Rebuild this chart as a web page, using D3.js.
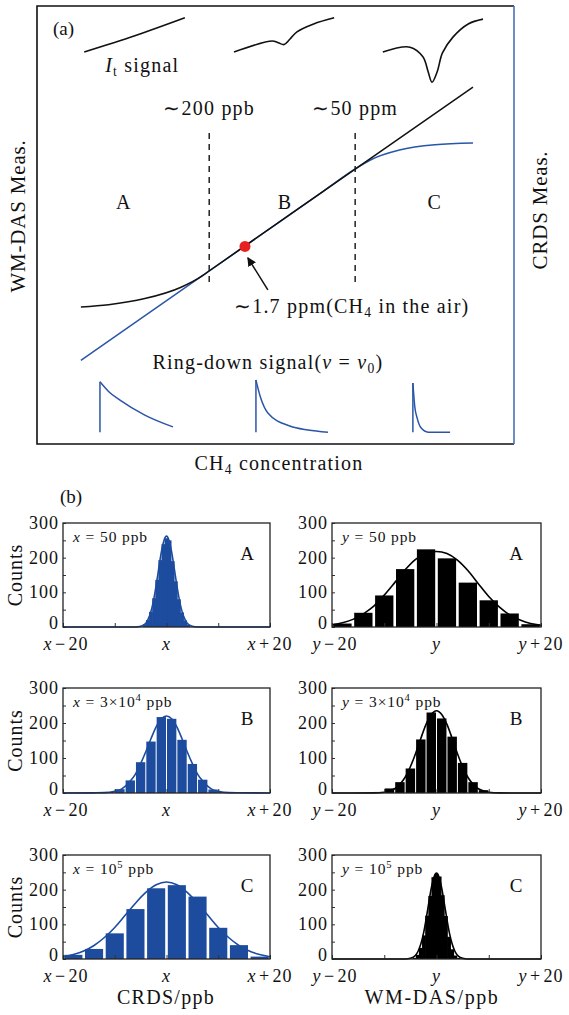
<!DOCTYPE html>
<html>
<head>
<meta charset="utf-8">
<script src="https://cdn.jsdelivr.net/npm/d3@7"></script>
<style>
  body { margin: 0; background: #fff; }
  svg text { font-family: "Liberation Serif", "Times New Roman", serif; fill: #111; }
</style>
</head>
<body>
<div id="chart"></div>
<script>
// ---------- panel (a): schematic, in arbitrary units 0..100 ----------
const wmdasCurve = [[9.2, 31.3], [15, 31.8], [22.6, 33.2], [30.2, 35.8], [34.8, 38.5], [36.1, 39.5], [60, 57.7], [91.4, 81.5]];
const crdsCurve = [[9.2, 19.1], [36.1, 39.5], [60, 57.7], [66.7, 62.8], [70, 64.9], [76, 67.1], [83.4, 68.3], [91.4, 68.7]];
const signalLow = [[9.9, 89.5], [20.5, 93.2], [31.0, 97.3]];
const signalMid = [[41.3, 89.5], [49.3, 92.0], [50.6, 91.6], [51.8, 91.2], [53.0, 92.4], [54.5, 94.1], [58, 95.9], [62.3, 97.3]];
const signalHigh = [[72.5, 89.5], [78.2, 90.6], [80.9, 88.4], [82.0, 85.0], [82.8, 82.6], [83.9, 85.0], [85.0, 89.3], [87.2, 92.9], [90.4, 95.9], [93.5, 97.0]];
const ringLow = [[13.2, 2.7], [13.2, 14.2], [15.0, 12.0], [17.4, 10.0], [22.6, 6.6], [28.5, 3.9]];
const ringMid = [[45.9, 2.7], [45.9, 14.6], [46.9, 10.5], [48.4, 7.1], [53.0, 4.1], [56.8, 3.2], [61.0, 2.7]];
const ringHigh = [[78.8, 2.7], [78.8, 13.9], [79.2, 8.5], [79.7, 5.9], [80.5, 3.7], [82.0, 2.7], [86.6, 2.7]];
const regionNames = ["A", "B", "C"];
const regionCenters = [18.2, 52.0, 83.4];
const regionBounds = [36.1, 66.7];
const boundLabels = ["200 ppb", "50 ppm"];
const airPoint = [43.6, 45.1];

// ---------- panel (b): histograms, offset from true value (ppb) ----------
const offsetTicks = [-20, -10, 0, 10, 20];
const offsetLabels = [-20, 0, 20];
const countTicks = [0, 100, 200, 300];
const countMinorTicks = [0, 50, 100, 150, 200, 250, 300];

const binsNarrow = [-4.2, -3.6, -3.0, -2.4, -1.8, -1.2, -0.6, 0, 0.6, 1.2, 1.8, 2.4, 3.0, 3.6, 4.2];
const binsMid = [-11, -9, -7, -5, -3, -1, 1, 3, 5, 7, 9, 11];
const binsWide = [-18, -14, -10, -6, -2, 2, 6, 10, 14, 18];

const crdsCountsA = [8, 20, 44, 83, 136, 193, 239, 256, 250, 190, 132, 80, 42, 19, 7];
const wmdasCountsA = [10, 41, 91, 167, 224, 198, 128, 77, 39, 8];
const crdsCountsB = [3, 11, 36, 88, 147, 217, 212, 152, 83, 38, 10, 3];
const wmdasCountsB = [3, 13, 31, 70, 153, 230, 213, 161, 86, 31, 8, 2];
const crdsCountsC = [12, 29, 74, 144, 204, 213, 180, 90, 40, 7];
const wmdasCountsC = [3, 12, 32, 68, 125, 182, 236, 246, 238, 184, 124, 64, 28, 10, 3];

const crdsFitA = [[-20, 0], [-6, 0], [-5, 2], [-4, 11], [-3.5, 24], [-3, 45], [-2.5, 77], [-2, 120], [-1.5, 169], [-1, 216], [-0.5, 249], [0, 262],
  [0.5, 249], [1, 216], [1.5, 169], [2, 120], [2.5, 77], [3, 45], [3.5, 24], [4, 11], [5, 2], [6, 0], [20, 0]];
const wmdasFitA = [[-20, 6], [-18, 12], [-16, 22], [-14, 38], [-12, 60], [-10, 92], [-8, 128], [-6, 165], [-4, 195], [-2, 213], [0, 218],
  [2, 212], [4, 193], [6, 163], [8, 125], [10, 88], [12, 58], [14, 35], [16, 20], [18, 10], [20, 5]];
const crdsFitB = [[-20, 0], [-14, 0.5], [-12, 1], [-10, 5], [-9, 9], [-8, 19], [-7, 34], [-6, 54], [-5, 84], [-4, 118], [-3, 155], [-2, 189], [-1, 212], [0, 220],
  [1, 212], [2, 189], [3, 155], [4, 118], [5, 84], [6, 54], [7, 34], [8, 19], [9, 9], [10, 5], [12, 1], [14, 0.5], [20, 0]];
const wmdasFitB = [[-20, 0], [-12, 0.3], [-10, 2], [-9, 6], [-8, 12], [-7, 25], [-6, 45], [-5, 75], [-4, 113], [-3, 156], [-2, 196], [-1, 224], [0, 235],
  [1, 224], [2, 196], [3, 156], [4, 113], [5, 75], [6, 45], [7, 25], [8, 12], [9, 6], [10, 2], [12, 0.3], [20, 0]];
const crdsFitC = [[-20, 6.5], [-18, 13], [-16, 23], [-14, 39], [-12, 62], [-10, 91], [-8, 126], [-6, 161], [-4, 192], [-2, 214], [0, 222],
  [2, 214], [4, 192], [6, 161], [8, 126], [10, 91], [12, 62], [14, 39], [16, 23], [18, 13], [20, 6.5]];
const wmdasFitC = [[-20, 0], [-6, 0], [-5, 2], [-4, 11], [-3.5, 23], [-3, 43], [-2.5, 73], [-2, 114], [-1.5, 160], [-1, 204], [-0.5, 236], [0, 248],
  [0.5, 236], [1, 204], [1.5, 160], [2, 114], [2.5, 73], [3, 43], [3.5, 23], [4, 11], [5, 2], [6, 0], [20, 0]];

const BLUE = "#1d4c9f";
const BLUE_TEXT = "#3d66b3";

const svg = d3.select("#chart").append("svg")
  .attr("width", 569)
  .attr("height", 1015);

// text with italic / sub / superscript pieces
function rich(parent, x, y, parts, attrs) {
  const t = parent.append("text").attr("x", x).attr("y", y);
  Object.entries(attrs || {}).forEach(([k, v]) => t.attr(k, v));
  let shift = 0;
  parts.forEach(p => {
    const s = t.append("tspan").text(p.t);
    const want = p.sh || 0;
    if (want !== shift) { s.attr("dy", want - shift); shift = want; }
    if (p.i) s.attr("font-style", "italic");
    if (p.sh) s.attr("font-size", "68%");
  });
  return t;
}

// ================= panel (a) =================
const ga = svg.append("g");
const ax = d3.scaleLinear().domain([0, 100]).range([37, 514]);
const ay = d3.scaleLinear().domain([0, 100]).range([444, 6]);
const aLine = d3.line().x(d => ax(d[0])).y(d => ay(d[1]));

// frame: black on three sides, blue on the right (CRDS axis)
ga.append("path")
  .attr("d", `M${ax(100)},${ay(100)}H${ax(0)}V${ay(0)}H${ax(100)}`)
  .attr("fill", "none").attr("stroke", "#111").attr("stroke-width", 1.6);
ga.append("line")
  .attr("x1", ax(100)).attr("x2", ax(100)).attr("y1", ay(100)).attr("y2", ay(0))
  .attr("stroke", "#4a70ba").attr("stroke-width", 1.6);

const aFont = { "font-size": 20, "letter-spacing": 1.2 };
rich(ga, 53, 35, [{ t: "(a)" }], { "font-size": 19 });

// small transmitted-intensity signals
[signalLow, signalMid, signalHigh].forEach(s => {
  ga.append("path").datum(s)
    .attr("d", aLine.curve(d3.curveCatmullRom.alpha(0.5)))
    .attr("fill", "none").attr("stroke", "#111").attr("stroke-width", 1.6);
});
rich(ga, ax(14.3), ay(84.9), [{ t: "I", i: true }, { t: "t", sh: 4 }, { t: " signal" }], aFont);

// region boundaries
regionBounds.forEach((b, i) => {
  ga.append("line")
    .attr("x1", ax(b)).attr("x2", ax(b))
    .attr("y1", ay(71.0)).attr("y2", ay(36.1))
    .attr("stroke", "#111").attr("stroke-width", 1.4).attr("stroke-dasharray", "6,5");
  rich(ga, ax(b), ay(75.1), [{ t: "\u223C" }, { t: boundLabels[i] }], Object.assign({ "text-anchor": "middle" }, aFont));
});
regionNames.forEach((n, i) => {
  rich(ga, ax(regionCenters[i]), ay(53.7), [{ t: n }], Object.assign({ "text-anchor": "middle" }, aFont));
});

// response curves
ga.append("path").datum(crdsCurve)
  .attr("d", aLine.curve(d3.curveMonotoneX))
  .attr("fill", "none").attr("stroke", "#2a56a8").attr("stroke-width", 1.5);
ga.append("path").datum(wmdasCurve)
  .attr("d", aLine.curve(d3.curveMonotoneX))
  .attr("fill", "none").attr("stroke", "#111").attr("stroke-width", 1.5);

ga.append("circle")
  .attr("cx", ax(airPoint[0])).attr("cy", ay(airPoint[1])).attr("r", 5.5)
  .attr("fill", "#e8201f");

// arrow to the ambient-air point
svg.append("defs").append("marker")
  .attr("id", "head").attr("viewBox", "0 0 10 10")
  .attr("refX", 9).attr("refY", 5)
  .attr("markerWidth", 9).attr("markerHeight", 9)
  .attr("markerUnits", "userSpaceOnUse").attr("orient", "auto")
  .append("path").attr("d", "M0,0L10,5L0,10Z").attr("fill", "#111");
ga.append("line")
  .attr("x1", ax(48.4)).attr("y1", ay(35.2))
  .attr("x2", ax(44.2)).attr("y2", ay(42.5))
  .attr("stroke", "#111").attr("stroke-width", 1.5)
  .attr("marker-end", "url(#head)");
rich(ga, ax(41.3), ay(29.9), [{ t: "\u223C1.7 ppm(CH" }, { t: "4", sh: 4 }, { t: " in the air)" }], aFont);

// ring-down traces
rich(ga, ax(48.4), ay(17.1),
  [{ t: "Ring-down signal(" }, { t: "\u03BD", i: true }, { t: " = " }, { t: "\u03BD", i: true }, { t: "0", sh: 4 }, { t: ")" }],
  Object.assign({ "text-anchor": "middle", fill: BLUE_TEXT }, aFont));
[ringLow, ringMid, ringHigh].forEach(r => {
  ga.append("path").datum(r.slice(0, 2))
    .attr("d", aLine.curve(d3.curveLinear))
    .attr("fill", "none").attr("stroke", "#2a56a8").attr("stroke-width", 1.5);
  ga.append("path").datum(r.slice(1))
    .attr("d", aLine.curve(d3.curveMonotoneX))
    .attr("fill", "none").attr("stroke", "#2a56a8").attr("stroke-width", 1.5);
});

// axis titles
rich(svg, 0, 0, [{ t: "WM-DAS Meas." }], { "font-size": 21, "letter-spacing": 0.8, "text-anchor": "middle", transform: "translate(25,216) rotate(-90)" });
rich(svg, 0, 0, [{ t: "CRDS Meas." }], { "font-size": 21, "letter-spacing": 0.8, "text-anchor": "middle", fill: BLUE_TEXT, transform: "translate(547,210) rotate(-90)" });
rich(svg, 279, 470, [{ t: "CH" }, { t: "4", sh: 4 }, { t: " concentration" }], Object.assign({ "text-anchor": "middle" }, aFont));

// ================= panel (b) =================
rich(svg, 60, 503, [{ t: "(b)" }], { "font-size": 19 });

const cols = [{ x0: 63, x1: 270, v: "x", color: BLUE }, { x0: 332, x1: 541, v: "y", color: "#000" }];
const rows = [{ y0: 523, y1: 627 }, { y0: 688, y1: 793 }, { y0: 855, y1: 959 }];

const panels = [
  { col: 0, row: 0, bins: binsNarrow, w: 0.6, gap: 0, counts: crdsCountsA, fit: crdsFitA, note: [{ t: "50 ppb" }], tag: "A" },
  { col: 1, row: 0, bins: binsWide, w: 4, gap: 2.6, counts: wmdasCountsA, fit: wmdasFitA, note: [{ t: "50 ppb" }], tag: "A" },
  { col: 0, row: 1, bins: binsMid, w: 2, gap: 1, counts: crdsCountsB, fit: crdsFitB, note: [{ t: "3\u00D710" }, { t: "4", sh: -6 }, { t: " ppb" }], tag: "B" },
  { col: 1, row: 1, bins: binsMid, w: 2, gap: 1, counts: wmdasCountsB, fit: wmdasFitB, note: [{ t: "3\u00D710" }, { t: "4", sh: -6 }, { t: " ppb" }], tag: "B" },
  { col: 0, row: 2, bins: binsWide, w: 4, gap: 2.6, counts: crdsCountsC, fit: crdsFitC, note: [{ t: "10" }, { t: "5", sh: -6 }, { t: " ppb" }], tag: "C" },
  { col: 1, row: 2, bins: binsNarrow, w: 0.6, gap: 0, counts: wmdasCountsC, fit: wmdasFitC, note: [{ t: "10" }, { t: "5", sh: -6 }, { t: " ppb" }], tag: "C" }
];

const tickFont = { "font-size": 18, "letter-spacing": 1 };

panels.forEach(p => {
  const c = cols[p.col], r = rows[p.row];
  const g = svg.append("g");
  const x = d3.scaleLinear().domain([-20, 20]).range([c.x0, c.x1]);
  const y = d3.scaleLinear().domain([0, 300]).range([r.y1, r.y0]);
  const overlap = p.gap === 0 ? 0.7 : 0;   // no hairline seams between touching bins

  g.selectAll("rect.bar")
    .data(p.bins.map((b, i) => ({ b: b, n: p.counts[i] })))
    .join("rect").attr("class", "bar")
    .attr("x", d => x(d.b - p.w / 2) + p.gap / 2 - overlap / 2)
    .attr("width", d => x(d.b + p.w / 2) - x(d.b - p.w / 2) - p.gap + overlap)
    .attr("y", d => y(d.n))
    .attr("height", d => y(0) - y(d.n))
    .attr("fill", c.color);

  g.append("path").datum(p.fit)
    .attr("d", d3.line().x(d => x(d[0])).y(d => y(d[1])).curve(d3.curveMonotoneX))
    .attr("fill", "none").attr("stroke", c.color).attr("stroke-width", 1.6);

  // inward ticks
  g.append("g").attr("transform", `translate(0,${r.y1})`)
    .call(d3.axisBottom(x).tickValues(offsetTicks).tickSize(-4).tickFormat(""))
    .call(a => a.select(".domain").remove())
    .selectAll("line").attr("stroke", "#333");
  g.append("g").attr("transform", `translate(${c.x0},0)`)
    .call(d3.axisLeft(y).tickValues(countMinorTicks).tickSize(-3).tickFormat(""))
    .call(a => a.select(".domain").remove())
    .selectAll("line").attr("stroke", "#333");

  g.append("rect")
    .attr("x", c.x0).attr("y", r.y0)
    .attr("width", c.x1 - c.x0).attr("height", r.y1 - r.y0)
    .attr("fill", "none").attr("stroke", "#222").attr("stroke-width", 1.3);

  // tick labels
  countTicks.forEach(v => {
    rich(g, c.x0 - 4, y(v) + (v === 0 ? 2 : 6), [{ t: String(v) }], Object.assign({ "text-anchor": "end" }, tickFont));
  });
  offsetLabels.forEach(v => {
    const parts = [{ t: c.v, i: true }];
    if (v < 0) parts.push({ t: "\u200A\u2212\u200A" + Math.abs(v) });
    if (v > 0) parts.push({ t: "\u200A+\u200A" + v });
    rich(g, x(v) + (v < 0 ? 3 : 0), r.y1 + 22.5, parts, Object.assign({ "text-anchor": "middle" }, tickFont));
  });

  rich(g, c.x0 + 10, r.y0 + 19, [{ t: c.v, i: true }, { t: " = " }].concat(p.note), { "font-size": 15.5, "letter-spacing": 0.9 });
  rich(g, c.x0 + 184, r.y0 + 37, [{ t: p.tag }], { "font-size": 19, "text-anchor": "middle" });

  if (p.col === 0) {
    rich(g, 0, 0, [{ t: "Counts" }], { "font-size": 20, "letter-spacing": 1, "text-anchor": "middle", transform: `translate(22,${(r.y0 + r.y1) / 2}) rotate(-90)` });
  }
});

rich(svg, 166, 1004, [{ t: "CRDS/ppb" }], { "font-size": 20, "letter-spacing": 1.3, "text-anchor": "middle", fill: BLUE_TEXT });
rich(svg, 432, 1004, [{ t: "WM-DAS/ppb" }], { "font-size": 20, "letter-spacing": 1.6, "text-anchor": "middle" });
</script>
</body>
</html>
